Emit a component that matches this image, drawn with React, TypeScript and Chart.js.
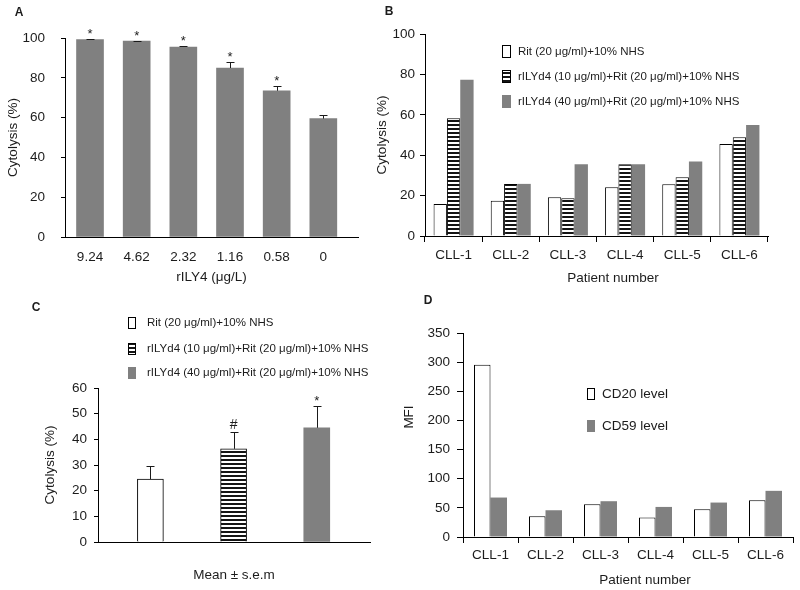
import React, { useEffect, useRef } from 'react';
import { Chart, registerables } from 'chart.js';

Chart.register(...registerables);

const FONT = '"Liberation Sans", Arial, Helvetica, sans-serif';
const TEXT = '#1c1c1c';
const GRAY = '#808080';
const LINE = '#000000';

// ---------- Panel A data ----------
const concentrations = ['9.24', '4.62', '2.32', '1.16', '0.58', '0'];
const cytolysisA = [99.2, 98.4, 95.5, 84.9, 73.5, 59.5];
const errorsA = [0.3, 0.3, 0.4, 2.8, 2.2, 2.0];
const marksA = ['*', '*', '*', '*', '*', ''];

// ---------- Panel B data ----------
const patients = ['CLL-1', 'CLL-2', 'CLL-3', 'CLL-4', 'CLL-5', 'CLL-6'];
const treatments = [
  'Rit (20 μg/ml)+10% NHS',
  'rILYd4 (10 μg/ml)+Rit (20 μg/ml)+10% NHS',
  'rILYd4 (40 μg/ml)+Rit (20 μg/ml)+10% NHS',
];
const ritOnly = [15.9, 17.5, 19.2, 24.1, 25.6, 45.6];
const rily10 = [58.3, 25.8, 18.7, 35.5, 29.1, 48.9];
const rily40 = [77.4, 25.8, 35.5, 35.5, 36.9, 54.9];

// ---------- Panel C data ----------
const meanC = [24.5, 36.3, 44.5];
const semC = [5.2, 6.4, 8.5];
const marksC = ['', '#', '*'];

// ---------- Panel D data ----------
const markers = ['CD20 level', 'CD59 level'];
const cd20 = [295.5, 35.6, 56.2, 33.3, 47.6, 63.1];
const cd59 = [67.7, 45.9, 61.4, 51.6, 59.1, 79.2];

function stripePattern(): any {
  const c = document.createElement('canvas');
  c.width = 4;
  c.height = 4;
  const g = c.getContext('2d')!;
  g.fillStyle = '#ffffff';
  g.fillRect(0, 0, 4, 4);
  g.fillStyle = '#141414';
  g.fillRect(0, 0, 4, 2);
  return g.createPattern(c, 'repeat');
}

const annot = {
  id: 'annot',
  afterDraw(chart: any, _args: any, o: any) {
    const ctx = chart.ctx;
    ctx.save();
    if (o.errors) {
      const meta = chart.getDatasetMeta(0);
      const ys = chart.scales.y;
      ctx.strokeStyle = '#1a1a1a';
      ctx.lineWidth = 1;
      o.values.forEach((v: number, i: number) => {
        const el = meta.data[i];
        const x = Math.round(el.x) + 0.5;
        const yb = ys.getPixelForValue(v);
        const yt = Math.round(ys.getPixelForValue(v + o.errors[i])) + 0.5;
        ctx.beginPath();
        ctx.moveTo(x, yb);
        ctx.lineTo(x, yt);
        ctx.moveTo(x - 4, yt);
        ctx.lineTo(x + 4, yt);
        ctx.stroke();
        const m = o.marks ? o.marks[i] : '';
        if (m) {
          ctx.fillStyle = TEXT;
          ctx.font = `${m === '#' ? 14 : 13}px ${FONT}`;
          ctx.textAlign = 'center';
          ctx.textBaseline = 'alphabetic';
          ctx.fillText(m, el.x, yt - (m === '#' ? 4 : 2));
        }
      });
    }
    if (o.legend) {
      const L = o.legend;
      L.items.forEach((label: string, i: number) => {
        const cy = L.ys[i];
        const fill = L.fills[i];
        const bx = L.x;
        const by = Math.round(cy - L.h / 2);
        if (fill === 'gray') {
          ctx.fillStyle = GRAY;
          ctx.fillRect(bx, by, L.w, L.h);
        } else {
          ctx.fillStyle = fill === 'stripe' ? o.stripe : '#ffffff';
          ctx.fillRect(bx, by, L.w, L.h);
          ctx.strokeStyle = LINE;
          ctx.lineWidth = 1;
          ctx.strokeRect(bx + 0.5, by + 0.5, L.w - 1, L.h - 1);
        }
        ctx.fillStyle = TEXT;
        ctx.font = `${L.size}px ${FONT}`;
        ctx.textAlign = 'left';
        ctx.textBaseline = 'middle';
        ctx.fillText(label, L.textX, cy);
      });
    }
    if (o.titles) {
      o.titles.forEach((t: any) => {
        ctx.save();
        ctx.translate(t.x, t.y);
        if (t.rot) ctx.rotate(t.rot);
        ctx.fillStyle = TEXT;
        ctx.font = `13.5px ${FONT}`;
        ctx.textAlign = 'center';
        ctx.textBaseline = 'middle';
        ctx.fillText(t.text, 0, 0);
        ctx.restore();
      });
    }
    if (o.letter) {
      ctx.fillStyle = TEXT;
      ctx.font = `bold 12px ${FONT}`;
      ctx.textAlign = 'center';
      ctx.textBaseline = 'middle';
      ctx.fillText(o.letter.text, o.letter.x, o.letter.y);
    }
    ctx.restore();
  },
};

const tickFont = { family: FONT, size: 13.5 };
const titleFont = { family: FONT, size: 13.5 };

function yAxis(min: number, max: number, step: number, width: number, tickLength: number, padding: number, title?: any) {
  return {
    min,
    max,
    ticks: { stepSize: step, padding, color: TEXT, font: tickFont },
    grid: { display: true, drawOnChartArea: false, drawTicks: true, tickLength, color: LINE },
    border: { display: true, color: LINE },
    title: title || { display: false },
    afterFit: (s: any) => {
      s.width = width;
    },
  };
}

const baseOptions = {
  responsive: false,
  maintainAspectRatio: false,
  animation: false as const,
  devicePixelRatio: 1,
};

function makeA(): any {
  return {
    type: 'bar',
    data: {
      datasets: [
        {
          data: cytolysisA.map((y, i) => ({ x: i, y })),
          backgroundColor: GRAY,
          borderWidth: 0,
          barThickness: 27,
        },
      ],
    },
    options: {
      ...baseOptions,
      layout: { padding: { top: 38, right: 12, left: 0, bottom: 0 } },
      scales: {
        x: {
          type: 'linear',
          min: -0.536,
          max: 5.743,
          offset: false,
          afterBuildTicks: (s: any) => {
            s.ticks = concentrations.map((_, i) => ({ value: i }));
          },
          ticks: {
            callback: (v: any) => concentrations[v],
            padding: 4,
            autoSkip: false,
            maxRotation: 0,
            color: TEXT,
            font: tickFont,
          },
          grid: { display: false, offset: false },
          border: { display: true, color: LINE },
          title: { display: true, text: 'rILY4 (μg/L)', color: TEXT, font: titleFont, padding: { top: 0, bottom: 10 } },
          afterFit: (s: any) => {
            s.height = 58;
          },
        },
        y: yAxis(0, 100, 20, 65, 4, 16, {
          display: true,
          text: 'Cytolysis (%)',
          color: TEXT,
          font: titleFont,
          padding: { top: 5, bottom: 0 },
        }),
      },
      plugins: {
        legend: { display: false },
        tooltip: { enabled: false },
        annot: {
          values: cytolysisA,
          errors: errorsA,
          marks: marksA,
          letter: { text: 'A', x: 19, y: 13 },
        },
      },
    },
    plugins: [annot],
  };
}

function makeB(): any {
  const stripe = stripePattern();
  return {
    type: 'bar',
    data: {
      labels: patients,
      datasets: [
        { label: treatments[0], data: ritOnly, backgroundColor: '#ffffff', borderColor: LINE, borderWidth: 1 },
        { label: treatments[1], data: rily10, backgroundColor: stripe, borderColor: LINE, borderWidth: 1 },
        { label: treatments[2], data: rily40, backgroundColor: GRAY, borderWidth: 0 },
      ],
    },
    options: {
      ...baseOptions,
      layout: { padding: { top: 34, right: 32, left: 0, bottom: 0 } },
      datasets: { bar: { categoryPercentage: 0.7, barPercentage: 1 } },
      scales: {
        x: {
          ticks: { padding: 5, autoSkip: false, maxRotation: 0, color: TEXT, font: tickFont },
          grid: { display: true, drawOnChartArea: false, drawTicks: true, tickLength: 6, color: LINE, offset: true },
          border: { display: true, color: LINE },
          afterFit: (s: any) => {
            s.height = 59;
          },
        },
        y: yAxis(0, 100, 20, 55, 5, 5, {
          display: true,
          text: 'Cytolysis (%)',
          color: TEXT,
          font: titleFont,
          padding: { top: 4, bottom: 0 },
        }),
      },
      plugins: {
        legend: { display: false },
        tooltip: { enabled: false },
        annot: {
          stripe,
          legend: {
            items: treatments,
            fills: ['white', 'stripe', 'gray'],
            x: 132,
            textX: 148,
            ys: [51.5, 76.5, 101.5],
            w: 9,
            h: 13,
            size: 11.5,
          },
          titles: [{ text: 'Patient number', x: 243, y: 278 }],
          letter: { text: 'B', x: 19, y: 12 },
        },
      },
    },
    plugins: [annot],
  };
}

function makeC(): any {
  const stripe = stripePattern();
  return {
    type: 'bar',
    data: {
      datasets: [
        {
          data: meanC.map((y, i) => ({ x: i, y })),
          backgroundColor: ['#ffffff', stripe, GRAY],
          borderColor: [LINE, LINE, GRAY],
          borderWidth: [1, 1, 0],
          barThickness: 26,
        },
      ],
    },
    options: {
      ...baseOptions,
      layout: { padding: { top: 93, right: 30, left: 0, bottom: 0 } },
      scales: {
        x: {
          type: 'linear',
          min: -0.63,
          max: 2.64,
          offset: false,
          ticks: { display: false },
          grid: { display: false, offset: false },
          border: { display: true, color: LINE },
          title: { display: true, text: 'Mean ± s.e.m', color: TEXT, font: titleFont, padding: { top: 0, bottom: 7 } },
          afterFit: (s: any) => {
            s.height = 48;
          },
        },
        y: yAxis(0, 60, 10, 98, 4, 7, {
          display: true,
          text: 'Cytolysis (%)',
          color: TEXT,
          font: titleFont,
          padding: { top: 42, bottom: 0 },
        }),
      },
      plugins: {
        legend: { display: false },
        tooltip: { enabled: false },
        annot: {
          stripe,
          values: meanC,
          errors: semC,
          marks: marksC,
          legend: {
            items: treatments,
            fills: ['white', 'stripe', 'gray'],
            x: 128,
            textX: 147,
            ys: [27.5, 54, 78],
            w: 8,
            h: 12,
            size: 11.5,
          },
          letter: { text: 'C', x: 36, y: 13 },
        },
      },
    },
    plugins: [annot],
  };
}

function makeD(): any {
  return {
    type: 'bar',
    data: {
      labels: patients,
      datasets: [
        { label: markers[0], data: cd20, backgroundColor: '#ffffff', borderColor: LINE, borderWidth: 1 },
        { label: markers[1], data: cd59, backgroundColor: GRAY, borderWidth: 0 },
      ],
    },
    options: {
      ...baseOptions,
      layout: { padding: { top: 38, right: 7, left: 0, bottom: 0 } },
      datasets: { bar: { categoryPercentage: 0.6, barPercentage: 1 } },
      scales: {
        x: {
          ticks: { padding: 4, autoSkip: false, maxRotation: 0, color: TEXT, font: tickFont },
          grid: { display: true, drawOnChartArea: false, drawTicks: true, tickLength: 6, color: LINE, offset: true },
          border: { display: true, color: LINE },
          afterFit: (s: any) => {
            s.height = 53;
          },
        },
        y: yAxis(0, 350, 50, 63, 6, 7),
      },
      plugins: {
        legend: { display: false },
        tooltip: { enabled: false },
        annot: {
          legend: {
            items: markers,
            fills: ['white', 'gray'],
            x: 187,
            textX: 202,
            ys: [99, 131],
            w: 8,
            h: 12,
            size: 13.5,
          },
          titles: [
            { text: 'Patient number', x: 245, y: 285 },
            { text: 'MFI', x: 9, y: 122, rot: -Math.PI / 2 },
          ],
          letter: { text: 'D', x: 28, y: 6 },
        },
      },
    },
    plugins: [annot],
  };
}

function Panel({ make, left, top, width, height }: { make: () => any; left: number; top: number; width: number; height: number }) {
  const ref = useRef<HTMLCanvasElement>(null);
  useEffect(() => {
    const chart = new Chart(ref.current as HTMLCanvasElement, make());
    return () => chart.destroy();
  }, [make]);
  return (
    <canvas
      ref={ref}
      width={width}
      height={height}
      style={{ position: 'absolute', left, top, width, height, display: 'block' }}
    />
  );
}

export default function App() {
  return (
    <div style={{ position: 'fixed', left: 0, top: 0, width: 800, height: 590, background: '#ffffff', overflow: 'hidden' }}>
      <Panel make={makeA} left={0} top={0} width={370} height={295} />
      <Panel make={makeB} left={370} top={0} width={430} height={295} />
      <Panel make={makeC} left={0} top={295} width={400} height={295} />
      <Panel make={makeD} left={400} top={295} width={400} height={295} />
    </div>
  );
}
